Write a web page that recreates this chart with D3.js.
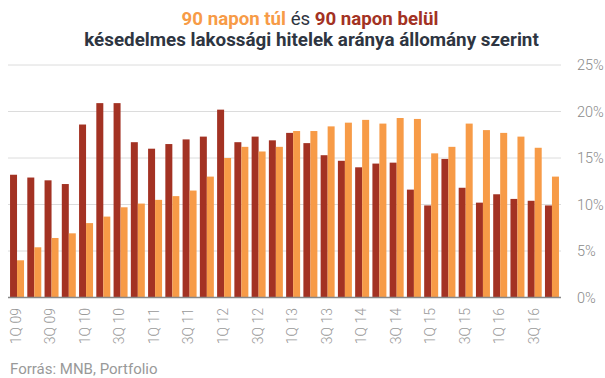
<!DOCTYPE html>
<html><head><meta charset="utf-8">
<script src="https://cdn.jsdelivr.net/npm/d3@7"></script>
<style>
html,body{margin:0;padding:0;background:#fff;}
svg{display:block;font-family:Roboto, "Noto Sans", sans-serif;}
</style></head>
<body><svg id="c" width="605" height="378"></svg>
<script>
const quarters = ["1Q 09","2Q 09","3Q 09","4Q 09","1Q 10","2Q 10","3Q 10","4Q 10",
  "1Q 11","2Q 11","3Q 11","4Q 11","1Q 12","2Q 12","3Q 12","4Q 12",
  "1Q 13","2Q 13","3Q 13","4Q 13","1Q 14","2Q 14","3Q 14","4Q 14",
  "1Q 15","2Q 15","3Q 15","4Q 15","1Q 16","2Q 16","3Q 16","4Q 16"];
// 90 napon belül (dark red)
const within90 = [13.2,12.9,12.6,12.2,18.6,20.9,20.9,16.7,16.0,16.5,17.0,17.3,20.2,16.7,17.3,16.9,
  17.7,16.6,15.3,14.7,14.0,14.4,14.5,11.6,9.9,14.9,11.8,10.2,11.1,10.6,10.4,9.9];
// 90 napon túl (orange)
const over90 = [4.0,5.4,6.4,6.9,8.0,8.7,9.7,10.1,10.5,10.9,11.5,13.0,15.0,16.2,15.7,16.2,
  17.9,17.9,18.4,18.8,19.1,18.7,19.3,19.2,15.5,16.2,18.7,18.0,17.7,17.3,16.1,13.0];
const tickLabels = quarters.filter((q,i)=>i%2===0);
const yTicks = [0,5,10,15,20,25];

const svg = d3.select("#c");
const red = "#a33223", orange = "#f79b47";

const x = d3.scaleBand().domain(quarters).range([8.4,560.6]).paddingInner(0.189).paddingOuter(0.095);
const xs = d3.scaleBand().domain(["b","t"]).range([0,x.bandwidth()]);
const y = d3.scaleLinear().domain([0,25]).range([297.5,65]);

// gridlines
svg.append("g").selectAll("line").data(yTicks.slice(1)).join("line")
  .attr("x1",8).attr("x2",561).attr("y1",d=>y(d)).attr("y2",d=>y(d))
  .attr("stroke","#dcdcdc").attr("stroke-width",1);

// y labels
svg.append("g").selectAll("text").data(yTicks).join("text")
  .attr("x",577).attr("y",d=>y(d)+5).text(d=>d+"%")
  .attr("font-size",14.5).attr("font-weight",300).attr("fill","#8a8a8a");

// bars
const g = svg.append("g").selectAll("g").data(quarters).join("g")
  .attr("transform",d=>`translate(${x(d)},0)`);
g.append("rect").attr("x",xs("b")).attr("width",xs.bandwidth())
  .attr("y",(d,i)=>y(within90[i])).attr("height",(d,i)=>y(0)-y(within90[i])).attr("fill",red);
g.append("rect").attr("x",xs("t")).attr("width",xs.bandwidth())
  .attr("y",(d,i)=>y(over90[i])).attr("height",(d,i)=>y(0)-y(over90[i])).attr("fill",orange);

// x axis
const xa = svg.append("g").attr("transform",`translate(0,${y(0)})`)
  .call(d3.axisBottom(x).tickValues(tickLabels).tickSize(0).tickPadding(0));
xa.select(".domain").remove();
xa.selectAll("text").attr("transform","rotate(-90)").attr("text-anchor","end")
  .attr("x",-10.5).attr("y",-1).attr("dy","0.35em").attr("dx",0)
  .attr("font-size",14).attr("font-weight",300).attr("fill","#999").attr("font-family","Roboto");
svg.append("line").attr("x1",8).attr("x2",561).attr("y1",y(0)).attr("y2",y(0))
  .attr("stroke","#888").attr("stroke-width",1.5);

// title
const t1g = svg.append("g");
const t1 = t1g.append("text").attr("text-anchor","middle").attr("font-size",19).attr("font-weight",700);
t1.append("tspan").attr("fill",orange).text("90 napon túl");
t1.append("tspan").attr("fill","#2e3541").attr("font-weight",400).text(" és ");
t1.append("tspan").attr("fill",red).text("90 napon belül");
const l1 = t1.node().getComputedTextLength();
t1g.attr("transform",`translate(310,25) scale(${257/l1},1)`);

const t2g = svg.append("g");
const t2 = t2g.append("text").attr("text-anchor","middle").attr("font-size",19).attr("font-weight",700)
  .attr("fill","#2e3541").text("késedelmes lakossági hitelek aránya állomány szerint");
const l2 = t2.node().getComputedTextLength();
t2g.attr("transform",`translate(311.5,46) scale(${455/l2},1)`);

// footer
svg.append("text").attr("x",10).attr("y",374).attr("font-size",15).attr("fill","#999")
  .text("Forrás: MNB, Portfolio");
</script></body></html>
